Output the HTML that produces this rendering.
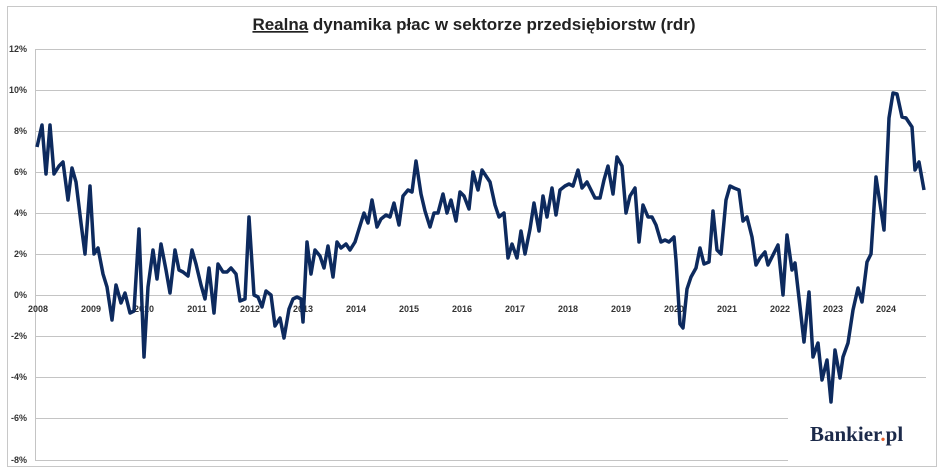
<!DOCTYPE html><html><head><meta charset="utf-8"><style>body{margin:0;background:#fff}svg{display:block}</style></head><body>
<svg width="948" height="472" xmlns="http://www.w3.org/2000/svg" font-family="Liberation Sans, sans-serif">
<rect x="7.5" y="6.5" width="929" height="460" fill="#fff" stroke="#c8c8c8"/>
<text x="474" y="30" text-anchor="middle" font-size="17" font-weight="bold" fill="#222"><tspan text-decoration="underline">Realna</tspan> dynamika płac w sektorze przedsiębiorstw (rdr)</text>
<g stroke="#c4c4c4" stroke-width="1">
<line x1="35" y1="49.5" x2="926" y2="49.5"/><line x1="35" y1="90.5" x2="926" y2="90.5"/><line x1="35" y1="131.5" x2="926" y2="131.5"/><line x1="35" y1="172.5" x2="926" y2="172.5"/><line x1="35" y1="213.5" x2="926" y2="213.5"/><line x1="35" y1="254.5" x2="926" y2="254.5"/><line x1="35" y1="295.5" x2="926" y2="295.5"/><line x1="35" y1="336.5" x2="926" y2="336.5"/><line x1="35" y1="377.5" x2="926" y2="377.5"/><line x1="35" y1="418.5" x2="926" y2="418.5"/><line x1="35" y1="460.5" x2="926" y2="460.5"/>
<line x1="35.5" y1="49" x2="35.5" y2="461"/>
</g>
<g font-size="9" font-weight="bold" fill="#333" text-anchor="end">
<text x="27" y="52">12%</text><text x="27" y="93">10%</text><text x="27" y="134">8%</text><text x="27" y="175">6%</text><text x="27" y="216">4%</text><text x="27" y="257">2%</text><text x="27" y="298">0%</text><text x="27" y="339">-2%</text><text x="27" y="380">-4%</text><text x="27" y="421">-6%</text><text x="27" y="463">-8%</text>
</g>
<g font-size="9" font-weight="bold" fill="#333" text-anchor="middle">
<text x="38" y="312">2008</text><text x="91" y="312">2009</text><text x="144" y="312">2010</text><text x="197" y="312">2011</text><text x="250" y="312">2012</text><text x="303" y="312">2013</text><text x="356" y="312">2014</text><text x="409" y="312">2015</text><text x="462" y="312">2016</text><text x="515" y="312">2017</text><text x="568" y="312">2018</text><text x="621" y="312">2019</text><text x="674" y="312">2020</text><text x="727" y="312">2021</text><text x="780" y="312">2022</text><text x="833" y="312">2023</text><text x="886" y="312">2024</text>
</g>
<rect x="788" y="412" width="140" height="52" fill="#fff"/>
<text x="810" y="441" font-family="Liberation Serif, serif" font-size="21" font-weight="bold" fill="#1c2a4a">Bankier<tspan fill="#e8602c">.</tspan>pl</text>
<polyline fill="none" stroke="#0d2a5e" stroke-width="3.5" stroke-linejoin="round" points="37,147 42,125 46,174 50,125 54,174 59,166 63,162 68,200 72,168 76,182 81,223 85,254 90,186 94,254 98,248 103,274 107,287 112,320 116,285 121,303 125,293 130,313 134,311 139,229 144,357 148,287 153,250 157,279 161,244 166,270 170,293 175,250 179,270 183,272 188,276 192,250 196,264 201,285 205,299 209,268 214,313 218,264 223,272 227,272 231,268 236,274 240,301 245,299 249,217 254,295 258,297 262,307 266,291 271,295 275,326 280,318 284,338 289,309 293,299 297,297 301,299 303,322 307,242 311,274 315,250 320,256 324,268 328,246 333,277 337,242 341,248 346,244 350,250 355,242 359,229 364,213 368,223 372,200 377,227 381,219 386,215 390,217 394,203 399,225 403,196 408,190 412,192 416,161 421,194 425,211 430,227 434,213 438,213 443,194 447,213 451,200 456,221 460,192 464,196 469,209 473,172 478,190 482,170 486,176 490,182 495,205 499,217 504,213 508,258 512,244 517,258 521,231 525,254 530,229 534,203 539,231 543,196 547,217 552,188 556,215 560,190 565,186 569,184 573,186 578,170 582,188 587,182 591,190 595,198 600,198 604,180 608,166 613,194 617,157 622,166 626,213 630,196 635,188 639,242 643,205 648,217 652,217 656,225 661,242 665,240 669,242 674,237 676,260 680,324 683,328 687,289 691,277 696,268 700,248 704,264 709,262 713,211 717,250 721,254 726,200 730,186 734,188 739,190 743,221 747,217 752,237 756,265 760,258 765,252 768,265 778,245 783,295 787,235 792,270 795,263 804,342 809,292 813,357 818,343 822,380 827,360 831,402 835,350 840,378 843,357 848,343 853,310 858,288 862,302 867,262 871,254 876,177 884,230 889,118 893,93 897,94 902,117 906,118 912,127 915,170 919,162 924,190"/>
</svg>
</body></html>
